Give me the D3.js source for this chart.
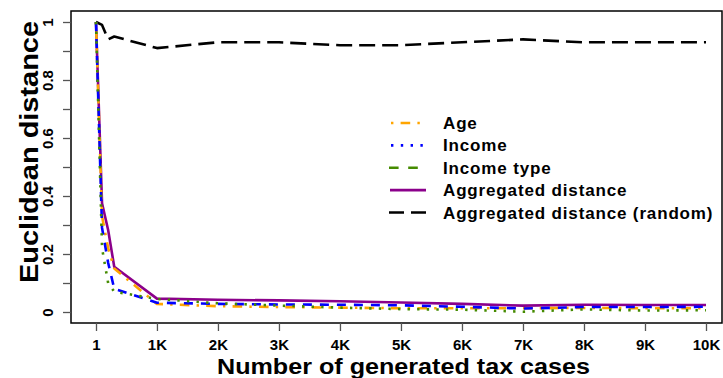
<!DOCTYPE html>
<html>
<head>
<meta charset="utf-8">
<script src="https://cdn.jsdelivr.net/npm/d3@7"></script>
<style>
  html, body { margin: 0; padding: 0; background: #fff; }
  svg { display: block; }
  text { font-family: "Liberation Sans", Arial, Helvetica, sans-serif; font-weight: bold; fill: #000; }
</style>
</head>
<body>
<svg id="chart" width="723" height="378"></svg>
<script>
// Number of generated tax cases at each measurement
const cases = [1, 100, 200, 300, 1000, 2000, 3000, 4000, 5000, 6000, 7000, 8000, 9000, 10000];

// Euclidean distance per attribute
const age        = [1.0, 0.33, 0.22, 0.15, 0.028, 0.020, 0.017, 0.015, 0.013, 0.013, 0.013, 0.014, 0.013, 0.013];
const income     = [1.0, 0.29, 0.17, 0.08, 0.032, 0.028, 0.026, 0.025, 0.023, 0.018, 0.012, 0.017, 0.017, 0.018];
const incomeType = [1.0, 0.22, 0.10, 0.07, 0.045, 0.030, 0.022, 0.015, 0.010, 0.008, 0.001, 0.009, 0.005, 0.006];
const aggregated = [1.0, 0.375, 0.283, 0.156, 0.046, 0.042, 0.040, 0.037, 0.033, 0.028, 0.022, 0.025, 0.024, 0.024];
const aggregatedRandom = [1.0, 0.99, 0.94, 0.95, 0.91, 0.93, 0.93, 0.92, 0.92, 0.93, 0.94, 0.93, 0.93, 0.93];

// Axis ticks
const xTicks = [1, 1000, 2000, 3000, 4000, 5000, 6000, 7000, 8000, 9000, 10000];
const xTickLabels = ["1", "1K", "2K", "3K", "4K", "5K", "6K", "7K", "8K", "9K", "10K"];
const yTicks = [0, 0.1, 0.2, 0.3, 0.4, 0.5, 0.6, 0.7, 0.8, 0.9, 1.0];
const yTickLabels = ["0", "", "0.2", "", "0.4", "", "0.6", "", "0.8", "", "1"];

const seriesNames = ["Age", "Income", "Income type", "Aggregated distance", "Aggregated distance (random)"];

const svg = d3.select("#chart");

const box = { left: 71, right: 722, top: 11, bottom: 323 };

const x = d3.scaleLinear().domain([1, 10000]).range([96, 706]);
const y = d3.scaleLinear().domain([0, 1]).range([312, 22]);

// Plot frame
svg.append("rect")
  .attr("x", box.left).attr("y", box.top)
  .attr("width", box.right - box.left).attr("height", box.bottom - box.top)
  .attr("fill", "none").attr("stroke", "#000").attr("stroke-width", 1.5);

// X axis
const xAxis = d3.axisBottom(x)
  .tickValues(xTicks)
  .tickFormat((d, i) => xTickLabels[i])
  .tickSize(8)
  .tickPadding(8);
const gx = svg.append("g").attr("transform", `translate(0,${box.bottom})`).call(xAxis);
gx.select(".domain").remove();
gx.selectAll(".tick line").attr("stroke", "#555").attr("stroke-width", 1.3);
gx.selectAll(".tick text").attr("font-size", 15).attr("font-family", "Liberation Sans, Arial, sans-serif").attr("font-weight", "bold").attr("fill", "#000");

// Y axis
const yAxis = d3.axisLeft(y)
  .tickValues(yTicks)
  .tickFormat((d, i) => yTickLabels[i])
  .tickSize(8)
  .tickPadding(0);
const gy = svg.append("g").attr("transform", `translate(${box.left},0)`).call(yAxis);
gy.select(".domain").remove();
gy.selectAll(".tick line").attr("stroke", "#555").attr("stroke-width", 1.3);
gy.selectAll(".tick text")
  .attr("font-size", 15).attr("font-family", "Liberation Sans, Arial, sans-serif").attr("font-weight", "bold").attr("fill", "#000")
  .attr("text-anchor", "middle")
  .attr("dy", null)
  .attr("x", null)
  .attr("transform", "translate(-18,0) rotate(-90)");

// Axis titles
svg.append("text")
  .attr("x", 403.5).attr("y", 374)
  .attr("text-anchor", "middle")
  .attr("font-size", 22.5)
  .attr("textLength", 373).attr("lengthAdjust", "spacingAndGlyphs")
  .text("Number of generated tax cases");

svg.append("text")
  .attr("transform", "translate(38,152) rotate(-90)")
  .attr("text-anchor", "middle")
  .attr("font-size", 25)
  .attr("textLength", 262).attr("lengthAdjust", "spacingAndGlyphs")
  .text("Euclidean distance");

// Series styles as drawn in the plot area
const plotSeries = [
  { values: aggregatedRandom, color: "#000000", dash: "16,7" },
  { values: aggregated,       color: "#8B008B", dash: null },
  { values: age,              color: "#FFA500", dash: "2.4,7.2,9.6,7.2" },
  { values: income,           color: "#0000FF", dash: "9,8" },
  { values: incomeType,       color: "#458B00", dash: "2.4,7.2" }
];

const line = d3.line().x((d, i) => x(cases[i])).y(d => y(d));

svg.append("g").selectAll("path")
  .data(plotSeries)
  .join("path")
  .attr("d", s => line(s.values))
  .attr("fill", "none")
  .attr("stroke", s => s.color)
  .attr("stroke-width", 2.6)
  .attr("stroke-dasharray", s => s.dash)
  .attr("stroke-linejoin", "round");

// Legend
const legendItems = [
  { color: "#FFA500", dash: "2.4,7.2,9.6,7.2", offset: 1 },
  { color: "#0000FF", dash: "2.4,7.4", offset: 1 },
  { color: "#458B00", dash: "9.6,9.6", offset: -1 },
  { color: "#8B008B", dash: null, offset: 0 },
  { color: "#000000", dash: "15,7", offset: -1 }
];
const legendRowY = d3.scaleLinear().domain([0, 4]).range([123, 212.5]);

const lg = svg.append("g");
legendItems.forEach((it, i) => {
  const cy = legendRowY(i);
  lg.append("line")
    .attr("x1", 390 + it.offset).attr("x2", 426)
    .attr("y1", cy).attr("y2", cy)
    .attr("stroke", it.color)
    .attr("stroke-width", 2.6)
    .attr("stroke-dasharray", it.dash);
  lg.append("text")
    .attr("x", 443).attr("y", cy + 6)
    .attr("font-size", 17)
    .attr("letter-spacing", 0.85)
    .text(seriesNames[i]);
});
</script>
</body>
</html>
